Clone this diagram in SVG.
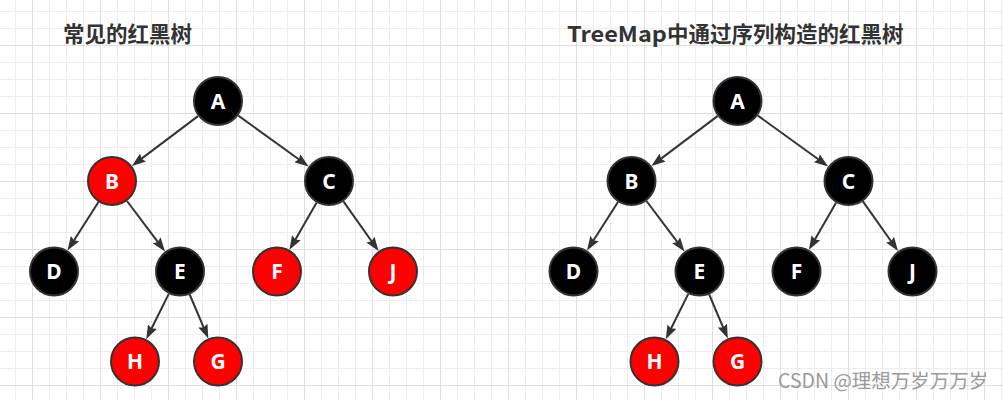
<svg xmlns="http://www.w3.org/2000/svg" width="1003" height="400" viewBox="0 0 1003 400">
<style>
.title{font-family:"Noto Sans CJK SC","Noto Sans",sans-serif;font-weight:bold;font-size:21.5px;fill:#333}
.node circle{stroke:#333;stroke-width:2}
.black circle{fill:#000}
.red circle{fill:#ff0000}
.node text{font-family:"Noto Sans","Open Sans",sans-serif;font-weight:bold;font-size:21px;fill:#fff;text-anchor:middle}
.edge{stroke:#333;stroke-width:2;fill:none;marker-end:url(#arr)}
.wm{font-family:"Noto Sans CJK SC","Noto Sans",sans-serif;font-size:19.5px;fill:#9a9a9a}
</style>
<defs>
<pattern id="grid" patternUnits="userSpaceOnUse" x="32" y="45" width="68" height="68">
<path d="M17.5,0V68M34.5,0V68M51.5,0V68M0,17.5H68M0,34.5H68M0,51.5H68" stroke="#ededed" stroke-width="1" fill="none"/>
<path d="M0.5,0V68M0,0.5H68" stroke="#dedede" stroke-width="1" fill="none"/>
</pattern>
<marker id="arr" markerUnits="userSpaceOnUse" markerWidth="14" markerHeight="10" refX="6" refY="5" orient="auto" viewBox="0 0 14 10">
<path d="M0,0 L14,5 L0,10 L2,5 z" fill="#333"/>
</marker>
</defs>
<rect width="1003" height="400" fill="#fff"/>
<rect width="1003" height="400" fill="url(#grid)"/>

<text class="title" x="63" y="42">常见的红黑树</text>
<text class="title" x="567" y="42"><tspan textLength="100" lengthAdjust="spacingAndGlyphs">TreeMap</tspan>中通过序列构造的红黑树</text>

<g id="connectors">
<g id="left-edges">
<path class="edge" d="M198,116.1 L138.3,161.1"/>
<path class="edge" d="M238.3,115.6 L302.2,161.7"/>
<path class="edge" d="M98.5,202 L71.8,243.7"/>
<path class="edge" d="M127,201 L160.2,245.1"/>
<path class="edge" d="M316.5,202.7 L293.4,242.9"/>
<path class="edge" d="M343.4,201.4 L373.9,244.5"/>
<path class="edge" d="M168.8,293.9 L149.8,332"/>
<path class="edge" d="M189.7,294.5 L205.2,331.1"/>
</g>
<g id="right-edges" transform="translate(519.5 0)">
<path class="edge" d="M198,116.1 L138.3,161.1"/>
<path class="edge" d="M238.3,115.6 L302.2,161.7"/>
<path class="edge" d="M98.5,202 L71.8,243.7"/>
<path class="edge" d="M127,201 L160.2,245.1"/>
<path class="edge" d="M316.5,202.7 L293.4,242.9"/>
<path class="edge" d="M343.4,201.4 L373.9,244.5"/>
<path class="edge" d="M168.8,293.9 L149.8,332"/>
<path class="edge" d="M189.7,294.5 L205.2,331.1"/>
</g>
</g>

<g id="left-tree">
<g id="L-A" class="node black"><circle cx="218" cy="101" r="24"/><text x="218" y="108.5">A</text></g>
<g id="L-B" class="node red"><circle cx="112" cy="181" r="24"/><text x="112" y="188.5">B</text></g>
<g id="L-C" class="node black"><circle cx="329" cy="181" r="24"/><text x="329" y="188.5">C</text></g>
<g id="L-D" class="node black"><circle cx="54" cy="271.5" r="24"/><text x="54" y="279">D</text></g>
<g id="L-E" class="node black"><circle cx="180" cy="271.5" r="24"/><text x="180" y="279">E</text></g>
<g id="L-F" class="node red"><circle cx="277" cy="271.5" r="24"/><text x="277" y="279">F</text></g>
<g id="L-J" class="node red"><circle cx="393" cy="271.5" r="24"/><text x="393" y="279">J</text></g>
<g id="L-H" class="node red"><circle cx="135" cy="361.5" r="24"/><text x="135" y="369">H</text></g>
<g id="L-G" class="node red"><circle cx="218" cy="361.5" r="24"/><text x="218" y="369">G</text></g>
</g>

<g id="right-tree" transform="translate(519.5 0)">
<g id="R-A" class="node black"><circle cx="218" cy="101" r="24"/><text x="218" y="108.5">A</text></g>
<g id="R-B" class="node black"><circle cx="112" cy="181" r="24"/><text x="112" y="188.5">B</text></g>
<g id="R-C" class="node black"><circle cx="329" cy="181" r="24"/><text x="329" y="188.5">C</text></g>
<g id="R-D" class="node black"><circle cx="54" cy="271.5" r="24"/><text x="54" y="279">D</text></g>
<g id="R-E" class="node black"><circle cx="180" cy="271.5" r="24"/><text x="180" y="279">E</text></g>
<g id="R-F" class="node black"><circle cx="277" cy="271.5" r="24"/><text x="277" y="279">F</text></g>
<g id="R-J" class="node black"><circle cx="393" cy="271.5" r="24"/><text x="393" y="279">J</text></g>
<g id="R-H" class="node red"><circle cx="135" cy="361.5" r="24"/><text x="135" y="369">H</text></g>
<g id="R-G" class="node red"><circle cx="218" cy="361.5" r="24"/><text x="218" y="369">G</text></g>
</g>

<text class="wm" x="778" y="388">CSDN @理想万岁万万岁</text>
</svg>
